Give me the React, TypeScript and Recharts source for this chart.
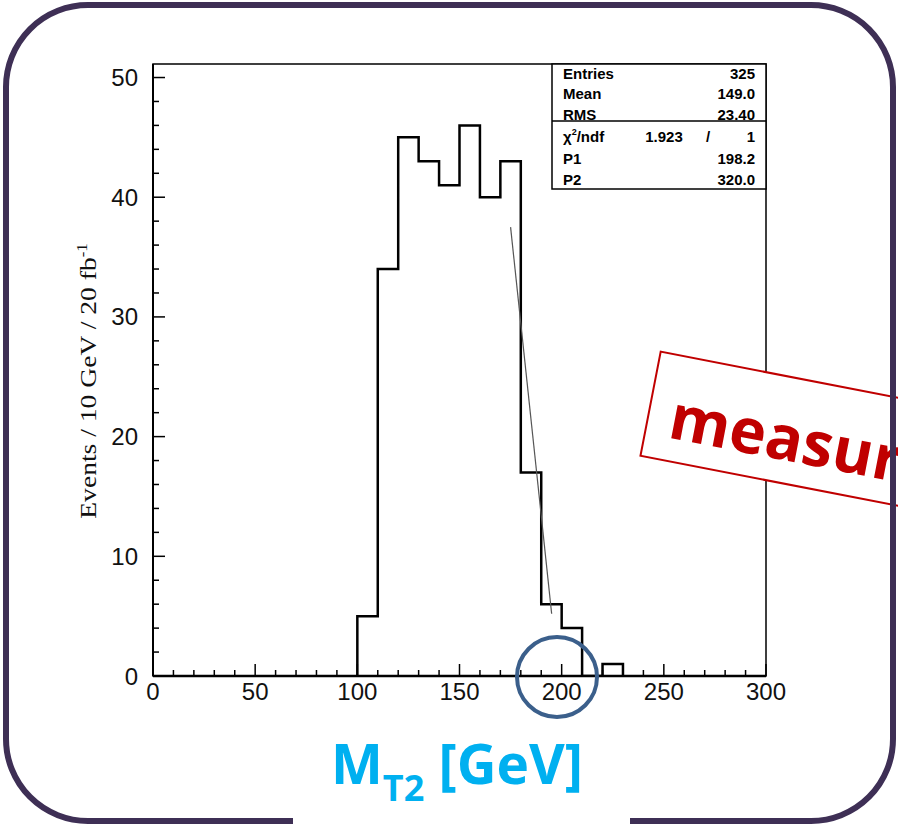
import { ComposedChart, Line, XAxis, YAxis, ReferenceArea } from 'recharts';

// Histogramm M_T2: untere Bin-Kanten (GeV) und Einträge pro 10 GeV
const binEdges = [100, 110, 120, 130, 140, 150, 160, 170, 180, 190, 200, 210, 220];
const binCounts = [5, 34, 45, 43, 41, 46, 40, 43, 17, 6, 4, 0, 1];
const binWidth = 10;

// Fit-Gerade (Endpunkte)
const fitX = [175, 195.1];
const fitY = [37.5, 5.2];

// Achsen-Ticks
const xTicks = [0, 10, 20, 30, 40, 50, 60, 70, 80, 90, 100, 110, 120, 130, 140, 150, 160, 170, 180, 190, 200, 210, 220, 230, 240, 250, 260, 270, 280, 290, 300];
const xLabels = [0, 50, 100, 150, 200, 250, 300];
const yTicks = [0, 2, 4, 6, 8, 10, 12, 14, 16, 18, 20, 22, 24, 26, 28, 30, 32, 34, 36, 38, 40, 42, 44, 46, 48, 50];
const yLabels = [0, 10, 20, 30, 40, 50];

// Statistik-Box
const statNames = ['Entries', 'Mean', 'RMS'];
const statValues = ['325', '149.0', '23.40'];
const fitNames = ['P1', 'P2'];
const fitValues = ['198.2', '320.0'];
const chi2 = '1.923';
const ndf = '1';

const W = 898;
const H = 826;
const tickFont = '"Liberation Sans", Arial, sans-serif';

// Histogramm als Stufenlinie
const histData = [
  { x: binEdges[0], count: 0 },
  ...binEdges.map((e, i) => ({ x: e, count: binCounts[i] })),
  { x: binEdges[binEdges.length - 1] + binWidth, count: 0 },
];
const fitData = fitX.map((x, i) => ({ x, fit: fitY[i] }));

const XTick = ({ x, y, payload }: any) => {
  const major = xLabels.includes(payload.value);
  return (
    <g>
      <line x1={x} x2={x} y1={y} y2={y - (major ? 12 : 6)} stroke="#000" strokeWidth={1.5} />
      {major && (
        <text x={x} y={y + 24} textAnchor="middle" fontFamily={tickFont} fontSize={24} fill="#111">
          {payload.value}
        </text>
      )}
    </g>
  );
};

const YTick = ({ x, y, payload }: any) => {
  const major = yLabels.includes(payload.value);
  return (
    <g>
      <line x1={x} x2={x + (major ? 12 : 6)} y1={y} y2={y} stroke="#000" strokeWidth={1.5} />
      {major && (
        <text x={x - 15} y={y + 8.5} textAnchor="end" fontFamily={tickFont} fontSize={24} fill="#111">
          {payload.value}
        </text>
      )}
    </g>
  );
};

function StatBox() {
  const left = 552;
  const right = 766;
  const top = 64;
  const font = '"Liberation Sans", Arial, sans-serif';
  const rowY = [79, 99, 120];
  const fitRowY = [164, 185];
  return (
    <g fontFamily={font} fontSize={15} fontWeight={700} fill="#000">
      <rect x={left} y={top} width={right - left} height={125} fill="#fff" stroke="#000" strokeWidth={1.5} />
      <line x1={left} x2={right} y1={121} y2={121} stroke="#000" strokeWidth={1.5} />
      {statNames.map((n, i) => (
        <g key={n}>
          <text x={563} y={rowY[i]}>{n}</text>
          <text x={755} y={rowY[i]} textAnchor="end">{statValues[i]}</text>
        </g>
      ))}
      <text x={563} y={142}>
        χ<tspan fontSize={9} dy={-7}>2</tspan>
        <tspan dy={7}>/ndf</tspan>
      </text>
      <text x={664} y={142} textAnchor="middle">{chi2}</text>
      <text x={708} y={142} textAnchor="middle">/</text>
      <text x={755} y={142} textAnchor="end">{ndf}</text>
      {fitNames.map((n, i) => (
        <g key={n}>
          <text x={563} y={fitRowY[i]}>{n}</text>
          <text x={755} y={fitRowY[i]} textAnchor="end">{fitValues[i]}</text>
        </g>
      ))}
    </g>
  );
}

export default function App() {
  return (
    <div style={{ position: 'absolute', left: 0, top: 0, width: W, height: H, overflow: 'hidden', background: '#fff' }}>
      <div style={{ position: 'absolute', left: 0, top: 0 }}>
        <ComposedChart width={W} height={H} margin={{ top: 64, right: 132, bottom: 120, left: 93 }}>
          <XAxis
            dataKey="x"
            type="number"
            domain={[0, 300]}
            ticks={xTicks}
            interval={0}
            height={30}
            tickSize={0}
            tickMargin={0}
            tickLine={false}
            tick={<XTick />}
            axisLine={{ stroke: '#000', strokeWidth: 2.5 }}
            allowDataOverflow
          />
          <YAxis
            type="number"
            domain={[0, 51.13]}
            ticks={yTicks}
            interval={0}
            width={60}
            tickSize={0}
            tickMargin={0}
            tickLine={false}
            tick={<YTick />}
            axisLine={{ stroke: '#000', strokeWidth: 2 }}
            allowDataOverflow
          />
          <ReferenceArea x1={0} x2={300} y1={0} y2={51.13} fill="none" stroke="#000" strokeWidth={1.5} ifOverflow="visible" />
          <Line
            data={histData}
            dataKey="count"
            type="stepAfter"
            stroke="#000"
            strokeWidth={2.5}
            dot={false}
            activeDot={false}
            isAnimationActive={false}
          />
          <Line
            data={fitData}
            dataKey="fit"
            type="linear"
            stroke="#555"
            strokeWidth={1.2}
            dot={false}
            activeDot={false}
            isAnimationActive={false}
          />
        </ComposedChart>
      </div>
      <svg width={W} height={H} style={{ position: 'absolute', left: 0, top: 0, pointerEvents: 'none' }}>
        <StatBox />
        {/* Achsentitel y */}
        <text
          transform="translate(96,381) rotate(-90) scale(1.2,1)"
          textAnchor="middle"
          fontFamily='"Liberation Serif", "Times New Roman", serif'
          fontSize={23}
          fill="#111"
        >
          Events / 10 GeV / 20 fb<tspan fontSize={14} dy={-9}>-1</tspan>
        </text>
        {/* Markierung "measurable" (rechts vom Bildrand abgeschnitten) */}
        <g transform="translate(660.7,351.7) rotate(11)">
          <rect x={0} y={0} width={330} height={106} fill="#fff" stroke="#c00000" strokeWidth={2} />
          <text x={22} y={83} fontFamily='"Open Sans", sans-serif' fontWeight={700} fontSize={62} fill="#c00000">
            measurable
          </text>
        </g>
        {/* Kreis um den Endpunkt */}
        <circle cx={557} cy={677} r={40} fill="none" stroke="#3b5f8b" strokeWidth={4} />
        {/* x-Achsentitel */}
        <text x={331} y={784} fontFamily='"Open Sans", sans-serif' fontWeight={700} fontSize={55} fill="#00b0f0">
          M<tspan fontSize={36} dy={17}>T2</tspan>
          <tspan dy={-17}> [GeV]</tspan>
        </text>
        {/* Rahmen */}
        <rect x={6} y={5} width={887} height={816} rx={82} ry={82} fill="none" stroke="#3e2f55" strokeWidth={6} />
        <rect x={293} y={813} width={337} height={13} fill="#fff" />
      </svg>
    </div>
  );
}
